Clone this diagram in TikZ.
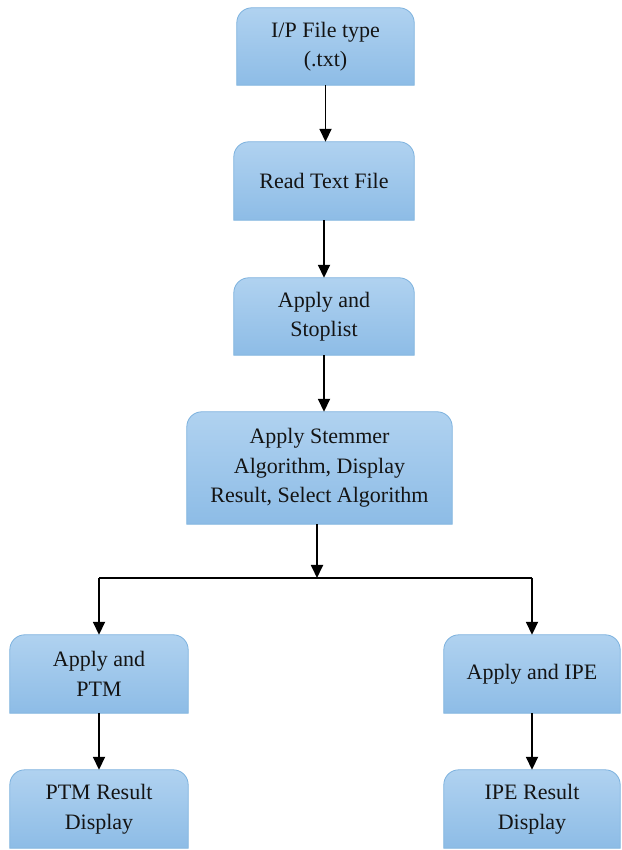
\documentclass[tikz,border=0pt]{standalone}
\usepackage{fontspec}
\setmainfont{Liberation Serif}
\usetikzlibrary{arrows.meta,backgrounds}
\definecolor{boxtop}{HTML}{B0D2F0}
\definecolor{boxbot}{HTML}{8DBCE6}
\definecolor{boxline}{HTML}{7DB2DE}
\definecolor{ink}{HTML}{141414}
\tikzset{
  x=1pt, y=1pt,
  box/.style={minimum width=177pt, minimum height=77pt, align=center,
    inner sep=0pt, text=ink, font=\fontsize{22}{29.5}\selectfont},
  flow/.style={line width=1.8pt, -{Triangle[length=13pt,width=12pt]}},
  link/.style={line width=1.8pt},
  boxshade/.style={top color=boxtop, bottom color=boxbot, draw=boxline, line width=0.8pt}
}
\begin{document}
\begin{tikzpicture}
\useasboundingbox (0,0) rectangle (621,850);
% process boxes (y measured from the bottom)
\node[box] (b1) at (325.5,803.5) {I/P File type\\(.txt)};
\node[box, minimum width=180pt, minimum height=78pt] (b2) at (324,669) {Read Text File};
\node[box, minimum width=180pt] (b3) at (324,533.5) {Apply and\\Stoplist};
\node[box, minimum width=265pt, minimum height=112pt] (b4) at (319.5,382) {Apply Stemmer\\Algorithm, Display\\Result, Select Algorithm};
\node[box, minimum width=178pt, minimum height=78pt] (b5) at (99,176) {Apply and\\PTM};
\node[box, minimum width=176pt, minimum height=78pt] (b6) at (532,176) {Apply and IPE};
\node[box, minimum width=178pt, minimum height=78pt] (b7) at (99,41) {PTM Result\\Display};
\node[box, minimum width=176pt, minimum height=78pt] (b8) at (532,41) {IPE Result\\Display};
\coordinate (split) at (317,272);

% box bodies: rounded top, square bottom
\begin{scope}[on background layer]
\foreach \n in {b1,b2,b3,b4,b5,b6,b7,b8}
  \path[boxshade] (\n.south west) [rounded corners=15pt] -- (\n.north west)
    -- (\n.north east) [sharp corners] -- (\n.south east) -- cycle;
\end{scope}

% connectors
\draw[flow] (b1.south) -- (b1.south |- b2.north);
\draw[flow] (b2.south) -- (b2.south |- b3.north);
\draw[flow] (b3.south) -- (b3.south |- b4.north);
\draw[flow] (split |- b4.south) -- (split);
\draw[link] (b5.north |- split) -- (b6.north |- split);
\draw[flow] (b5.north |- split) -- (b5.north);
\draw[flow] (b6.north |- split) -- (b6.north);
\draw[flow] (b5.south) -- (b7.north);
\draw[flow] (b6.south) -- (b8.north);
\end{tikzpicture}
\end{document}
